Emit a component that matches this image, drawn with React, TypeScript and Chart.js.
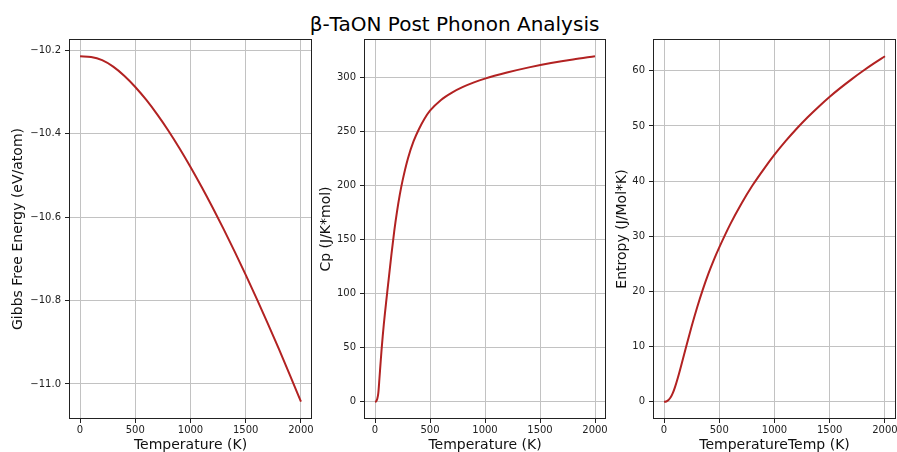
import React, { useEffect, useRef } from "react";
import { Chart, registerables } from "chart.js";

Chart.register(...registerables);

const W = 897;
const H = 452;
const FONT = "'DejaVu Sans', 'Liberation Sans', sans-serif";
const LINE_COLOR = "#b22222";

const TITLE = "β-TaON Post Phonon Analysis";

// ---- data ----
const xTicks = [0, 500, 1000, 1500, 2000];

const gibbsT = [0, 100, 200, 300, 400, 500, 600, 700, 800, 900, 1000, 1100, 1200, 1300, 1400, 1500, 1600, 1700, 1800, 1900, 2000];
const gibbsG = [-10.2145, -10.2161, -10.2239, -10.2394, -10.2612, -10.2881, -10.3192, -10.3544, -10.393, -10.435, -10.4799, -10.5273, -10.577, -10.6288, -10.6827, -10.7384, -10.7958, -10.8551, -10.916, -10.9785, -11.0425];
const gibbsTicks = [-11.0, -10.8, -10.6, -10.4, -10.2];

const cpT = [0, 10, 20, 30, 40, 50, 60, 70, 80, 90, 100, 110, 125, 150, 175, 200, 225, 250, 300, 350, 400, 450, 500, 600, 700, 800, 900, 1000, 1200, 1400, 1600, 1800, 2000];
const cpV = [0, 0.3, 2.5, 8, 21, 35, 48.5, 60.5, 71.5, 81.5, 91, 100.3, 114, 137, 158, 176, 191.5, 204.5, 225.5, 241, 252.5, 262, 269.5, 279.5, 286.3, 291.5, 295.7, 299.2, 304.8, 309.6, 313.6, 317, 319.9];
const cpTicks = [0, 50, 100, 150, 200, 250, 300];

const sT = [0, 20, 40, 60, 80, 100, 125, 150, 175, 200, 250, 300, 350, 400, 450, 500, 600, 700, 800, 900, 1000, 1100, 1200, 1300, 1400, 1500, 1600, 1700, 1800, 1900, 2000];
const sV = [0, 0.05, 0.3, 0.8, 1.6, 2.7, 4.35, 6.18, 8.08, 9.98, 13.68, 17.13, 20.28, 23.13, 25.68, 27.98, 32.2, 35.9, 39.2, 42.1, 44.8, 47.25, 49.5, 51.58, 53.5, 55.3, 56.95, 58.5, 59.96, 61.34, 62.64];
const sTicks = [0, 10, 20, 30, 40, 50, 60];

const xLabels = ["Temperature (K)", "Temperature (K)", "TemperatureTemp (K)"];
const yLabels = ["Gibbs Free Energy (eV/atom)", "Cp (J/K*mol)", "Entropy (J/Mol*K)"];

// ---- layout (positions only) ----
const PANELS = [
  { left: 69, right: 312, top: 39, bottom: 419, yTitleX: 18.5 },
  { left: 364, right: 606, top: 39, bottom: 419, yTitleX: 326 },
  { left: 653, right: 896, top: 39, bottom: 419, yTitleX: 622 },
];

const framePlugin = {
  id: "frame",
  afterDatasetsDraw(chart: any) {
    const { ctx, chartArea: a } = chart;
    ctx.save();
    ctx.strokeStyle = "#222";
    ctx.lineWidth = 1;
    ctx.strokeRect(Math.round(a.left) + 0.5, Math.round(a.top) + 0.5, Math.round(a.right - a.left) - 1, Math.round(a.bottom - a.top) - 1);
    ctx.restore();
  },
};

const minus = (s: string) => s.replace("-", "\u2212");

function makeConfig(xs: number[], ys: number[], yTicks: number[], fmt: (v: number) => string, yLabel: string, xLabel: string, p: any) {
  const data = xs.map((x, i) => ({ x, y: ys[i] }));
  const minY = Math.min(...ys);
  const maxY = Math.max(...ys);
  const m = (maxY - minY) * 0.05;
  const zeroPad = (s: any) => {
    s.paddingLeft = 0;
    s.paddingRight = 0;
    s.paddingTop = 0;
    s.paddingBottom = 0;
  };
  const grid = {
    display: true,
    color: "#c2c2c2",
    lineWidth: 1,
    drawTicks: true,
    tickLength: 4,
    tickColor: "#222",
    tickWidth: 1,
  };
  return {
    type: "line" as const,
    data: {
      datasets: [
        {
          data,
          borderColor: LINE_COLOR,
          borderWidth: 2,
          pointRadius: 0,
          fill: false,
          cubicInterpolationMode: "monotone" as const,
        },
      ],
    },
    options: {
      responsive: false,
      animation: false as const,
      events: [],
      layout: { padding: { left: p.yTitleX - 7, right: W - p.right, top: p.top, bottom: 0 } },
      plugins: { legend: { display: false }, tooltip: { enabled: false }, title: { display: false } },
      scales: {
        x: {
          type: "linear" as const,
          min: -100,
          max: 2100,
          bounds: "data" as const,
          afterBuildTicks: (s: any) => {
            s.ticks = xTicks.map((v) => ({ value: v }));
          },
          afterFit: (s: any) => {
            s.height = H - p.bottom;
            zeroPad(s);
          },
          grid,
          border: { display: false },
          ticks: {
            autoSkip: false,
            maxRotation: 0,
            padding: 1,
            color: "#222",
            font: { family: FONT, size: 10 },
            callback: (v: any) => String(v),
          },
          title: {
            display: true,
            text: xLabel,
            color: "#111",
            padding: 0,
            font: { family: FONT, size: 14, lineHeight: 1 },
          },
        },
        y: {
          type: "linear" as const,
          min: minY - m,
          max: maxY + m,
          bounds: "data" as const,
          afterBuildTicks: (s: any) => {
            s.ticks = yTicks.map((v) => ({ value: v }));
          },
          afterFit: (s: any) => {
            s.width = p.left - (p.yTitleX - 7);
            zeroPad(s);
          },
          grid,
          border: { display: false },
          ticks: {
            autoSkip: false,
            padding: 4,
            color: "#222",
            font: { family: FONT, size: 10 },
            callback: (v: any) => fmt(Number(v)),
          },
          title: {
            display: true,
            text: yLabel,
            color: "#111",
            padding: 0,
            font: { family: FONT, size: 14, lineHeight: 1 },
          },
        },
      },
    },
    plugins: [framePlugin],
  };
}

export default function App() {
  const r1 = useRef<HTMLCanvasElement>(null);
  const r2 = useRef<HTMLCanvasElement>(null);
  const r3 = useRef<HTMLCanvasElement>(null);

  useEffect(() => {
    const charts = [
      new Chart(r1.current!, makeConfig(gibbsT, gibbsG, gibbsTicks, (v) => minus(v.toFixed(1)), yLabels[0], xLabels[0], PANELS[0]) as any),
      new Chart(r2.current!, makeConfig(cpT, cpV, cpTicks, (v) => String(v), yLabels[1], xLabels[1], PANELS[1]) as any),
      new Chart(r3.current!, makeConfig(sT, sV, sTicks, (v) => String(v), yLabels[2], xLabels[2], PANELS[2]) as any),
    ];
    return () => charts.forEach((c) => c.destroy());
  }, []);

  const canvasStyle: React.CSSProperties = { position: "absolute", left: 0, top: 0, width: W, height: H };

  return (
    <div style={{ position: "absolute", left: 0, top: 0, width: W, height: H, background: "#fff", overflow: "hidden" }}>
      <div
        style={{
          position: "absolute",
          left: 0,
          top: 14,
          width: 909,
          textAlign: "center",
          fontFamily: FONT,
          fontSize: 20,
          lineHeight: "20px",
          color: "#000",
          whiteSpace: "nowrap",
        }}
      >
        {TITLE}
      </div>
      <canvas ref={r1} width={W} height={H} style={canvasStyle} />
      <canvas ref={r2} width={W} height={H} style={canvasStyle} />
      <canvas ref={r3} width={W} height={H} style={canvasStyle} />
    </div>
  );
}
